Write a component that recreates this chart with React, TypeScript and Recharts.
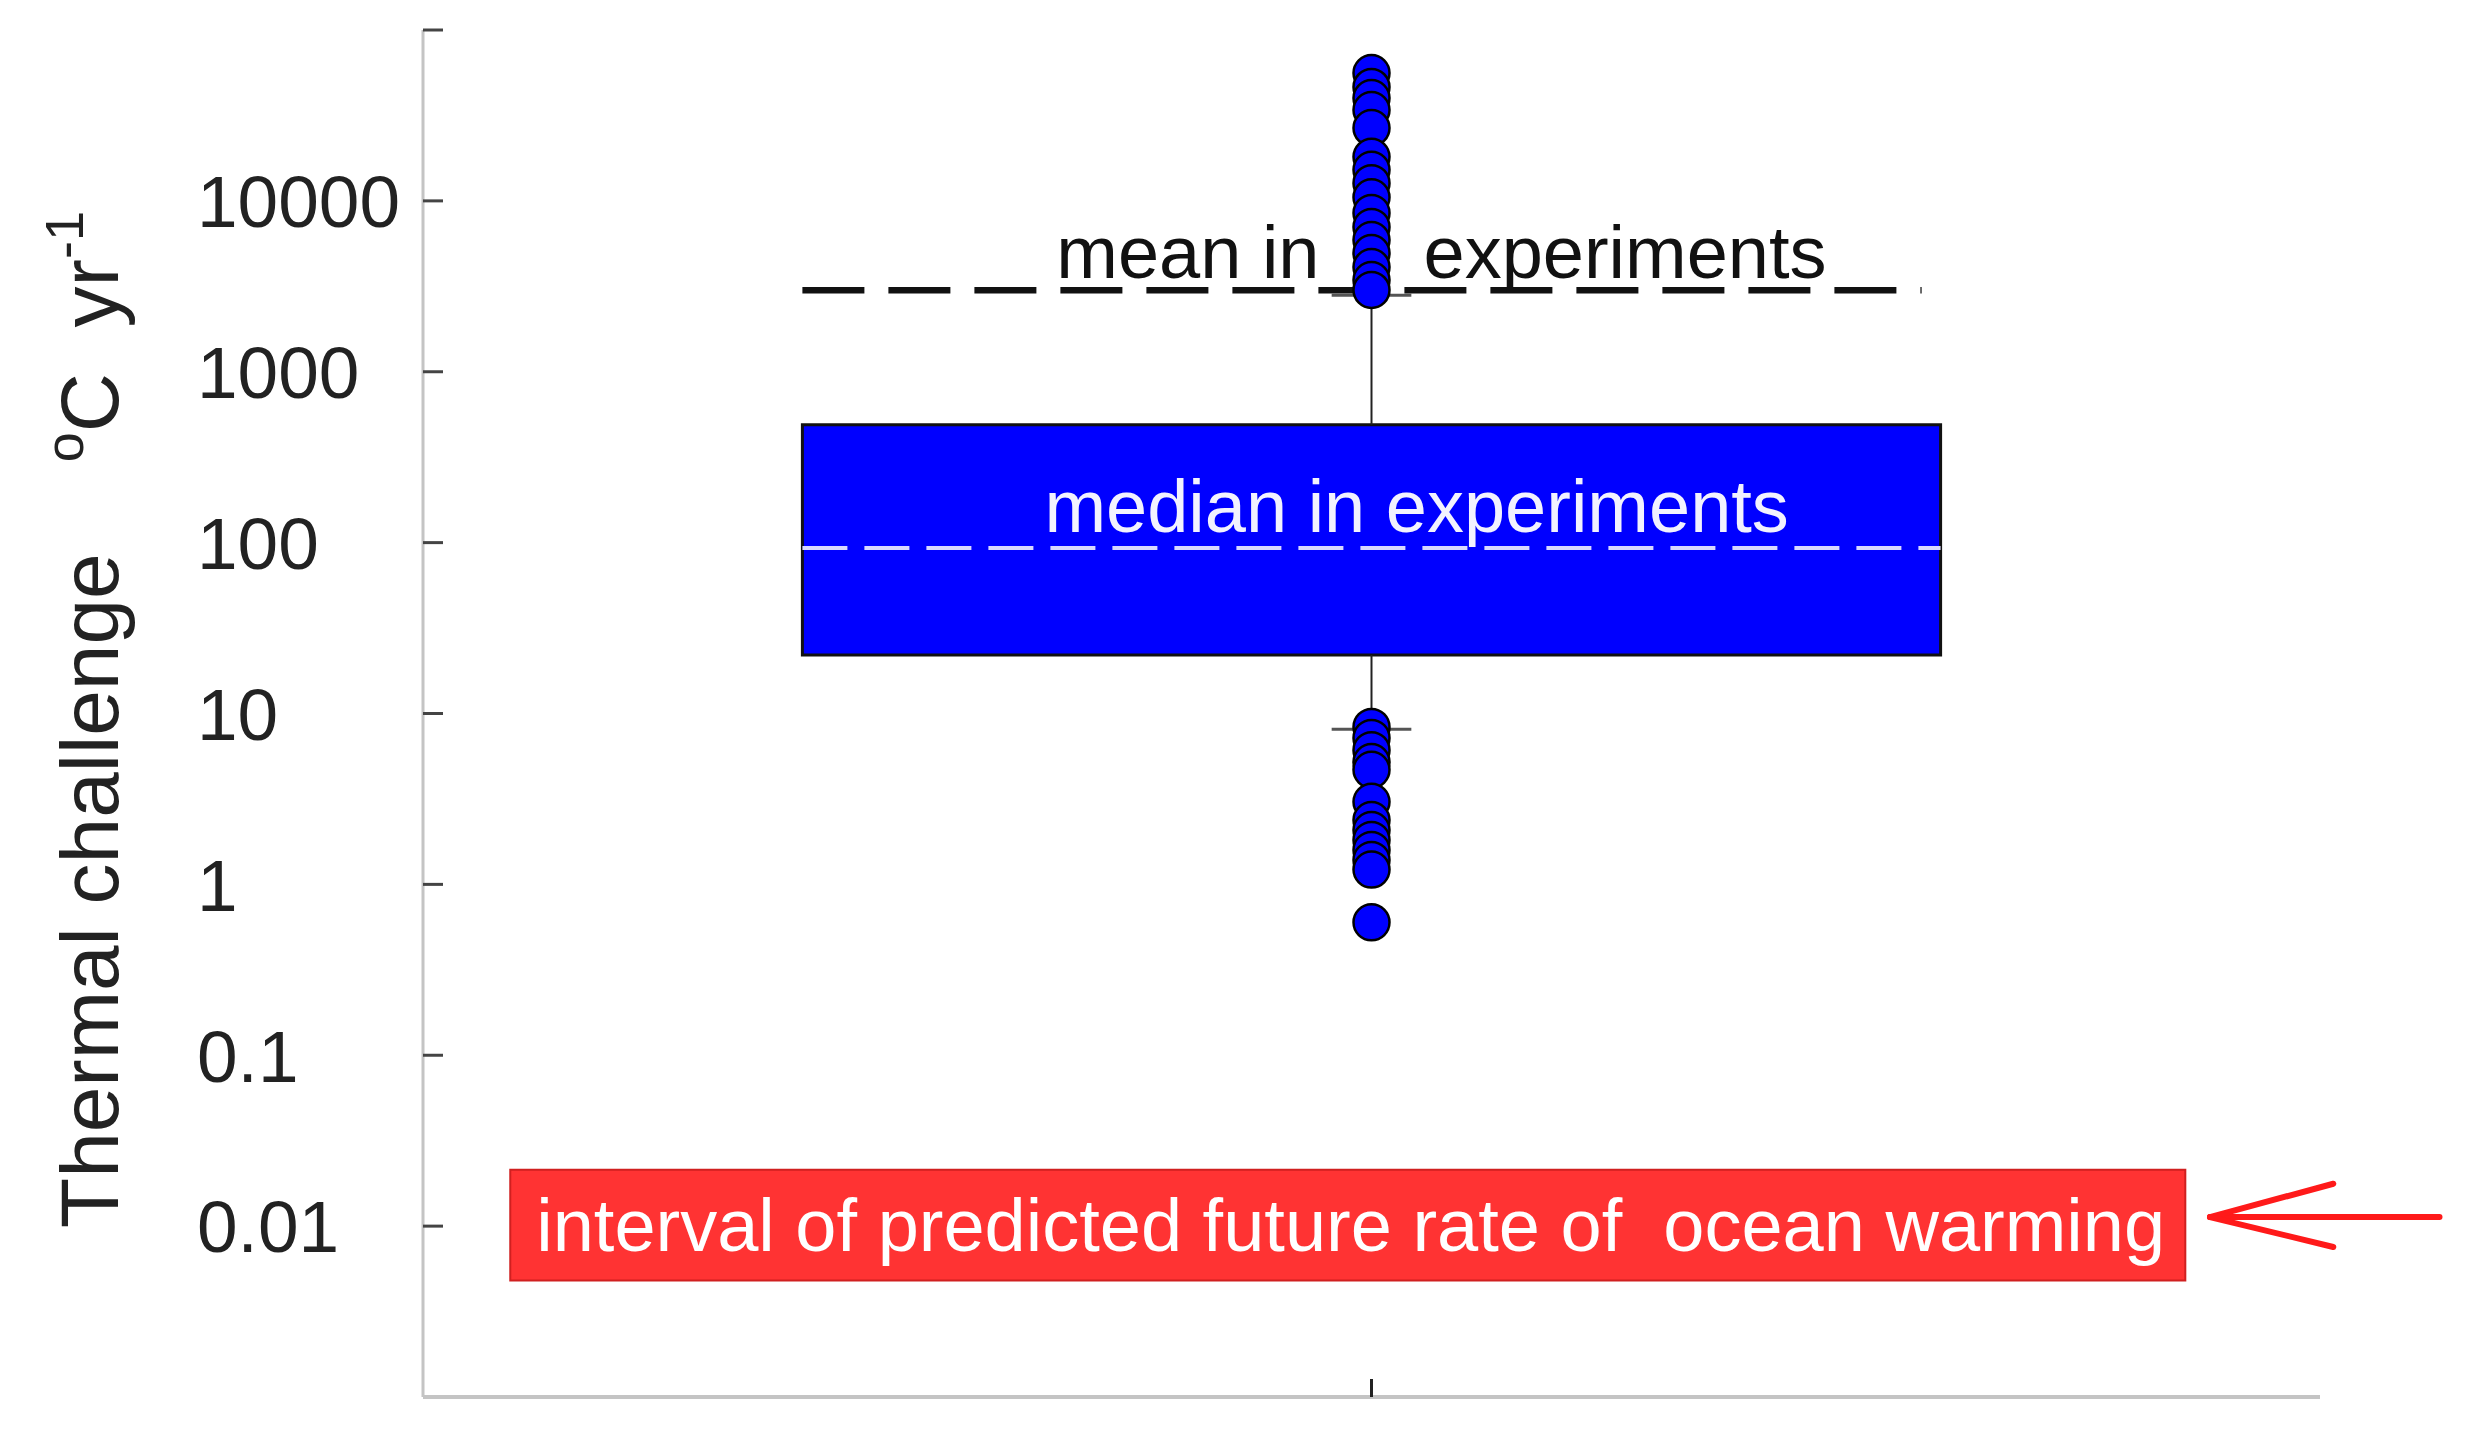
import React from 'react';
import { ComposedChart, XAxis, YAxis, Scatter, ReferenceArea, ReferenceLine } from 'recharts';

// box statistics, degC per year
const boxQ1 = 22;
const boxQ3 = 490;
const boxMedian = 93;
const boxMean = 3000;
const whiskerLow = 8.1;
const whiskerHigh = 2800;

// outliers above / below the whiskers
const upperOutliers = [56000, 46400, 40000, 34000, 26700, 18100, 15200, 12700, 10500, 8500, 7040, 5900, 4950, 4100, 3440, 3010];
const lowerOutliers = [8.35, 7.2, 6.1, 5.2, 4.68, 3.04, 2.38, 2.08, 1.82, 1.59, 1.39, 1.22, 0.6];

// predicted future rate of ocean warming (low, high)
const oceanInterval = [0.0048, 0.0214];
const arrowValues = [0.0113, 0.0177, 0.00755]; // tip, upper barb, lower barb

const yTicks = [0.01, 0.1, 1, 10, 100, 1000, 10000, 100000];
const yTickLabels = ['0.01', '0.1', '1', '10', '100', '1000', '10000', ''];

// horizontal layout on a 0..1 axis
const center = 0.5;
const boxX = [0.2, 0.8];
const meanX = [0.2, 0.79];
const capHalf = 0.021;
const intervalX = [0.046, 0.929];
const arrowX = [0.942, 1.007, 1.063]; // tip, barb end, tail

const FONT = '"Liberation Sans", Arial, sans-serif';

const outlierData = [...upperOutliers, ...lowerOutliers].map((v) => ({ x: center, y: v }));

const YTick = (props: any) => {
  const { x, y, payload } = props;
  const i = yTicks.indexOf(payload.value);
  return (
    <g>
      <line x1={x} y1={y} x2={x + 20} y2={y} stroke="#444" strokeWidth={3} />
      <text x={x - 226} y={y} dy="0.36em" textAnchor="start" fontSize={73} fill="#222" fontFamily={FONT}>
        {i >= 0 ? yTickLabels[i] : ''}
      </text>
    </g>
  );
};

const XTick = (props: any) => {
  const { x, y } = props;
  return <line x1={x} y1={y} x2={x} y2={y - 18} stroke="#222" strokeWidth={3} />;
};

const YLabel = (props: any) => {
  const vb = props.viewBox;
  const cx = 118;
  const cy = vb.y + vb.height / 2 + 6;
  return (
    <text
      transform={`rotate(-90 ${cx} ${cy})`}
      x={cx}
      y={cy}
      textAnchor="middle"
      fontSize={82}
      fill="#222"
      fontFamily={FONT}
      style={{ whiteSpace: 'pre' }}
    >
      {'Thermal challenge    '}
      <tspan fontSize={54} dy={-35}>o</tspan>
      <tspan dy={35}>{'C  yr'}</tspan>
      <tspan fontSize={54} dy={-35}>-1</tspan>
    </text>
  );
};

const MeanLabel = (props: any) => {
  const { x, y, width } = props.viewBox;
  const cx = x + (width * (center - meanX[0])) / (meanX[1] - meanX[0]);
  return (
    <g fontSize={74} fill="#111" fontFamily={FONT}>
      <text x={cx - 52} y={y - 12} textAnchor="end">mean in</text>
      <text x={cx + 52} y={y - 12} textAnchor="start">experiments</text>
    </g>
  );
};

const MedianLabel = (props: any) => {
  const { x, y } = props.viewBox;
  return (
    <text x={x + 242} y={y - 16} fontSize={74} fill="#f2f2ff" fontFamily={FONT}>
      median in experiments
    </text>
  );
};

const IntervalLabel = (props: any) => {
  const { x, y, height } = props.viewBox;
  return (
    <text x={x + 26} y={y + height / 2 + 26} fontSize={74} fill="#ffffff" fontFamily={FONT} style={{ whiteSpace: 'pre' }}>
      {'interval of predicted future rate of  ocean warming'}
    </text>
  );
};

const OutlierDot = (props: any) => (
  <circle cx={props.cx} cy={props.cy} r={18} fill="#0000ff" stroke="#000" strokeWidth={2.5} />
);

export default function App() {
  return (
    <div style={{ position: 'absolute', left: 0, top: 0, background: '#fff' }}>
      <ComposedChart width={2475} height={1446} margin={{ top: 30, right: 155, bottom: 29, left: 0 }}>
        <XAxis
          type="number"
          dataKey="x"
          domain={[0, 1]}
          ticks={[center]}
          allowDataOverflow
          height={20}
          tickSize={0}
          tickMargin={0}
          tickLine={false}
          tick={<XTick />}
          axisLine={{ stroke: '#c4c4c4', strokeWidth: 4 }}
        />
        <YAxis
          type="number"
          dataKey="y"
          scale="log"
          domain={[0.001, 100000]}
          allowDataOverflow
          ticks={yTicks}
          interval={0}
          width={423}
          tickSize={0}
          tickMargin={0}
          tickLine={false}
          tick={<YTick />}
          axisLine={{ stroke: '#c4c4c4', strokeWidth: 3 }}
          label={{ content: <YLabel /> }}
        />

        <ReferenceArea
          x1={intervalX[0]}
          x2={intervalX[1]}
          y1={oceanInterval[0]}
          y2={oceanInterval[1]}
          fill="#ff3333"
          fillOpacity={1}
          stroke="#d02020"
          strokeWidth={2}
          label={<IntervalLabel />}
        />

        <ReferenceLine segment={[{ x: center, y: boxQ3 }, { x: center, y: whiskerHigh }]} stroke="#222" strokeWidth={2} />
        <ReferenceLine segment={[{ x: center, y: whiskerLow }, { x: center, y: boxQ1 }]} stroke="#222" strokeWidth={2} />
        <ReferenceLine
          segment={[{ x: center - capHalf, y: whiskerHigh }, { x: center + capHalf, y: whiskerHigh }]}
          stroke="#555"
          strokeWidth={3}
        />
        <ReferenceLine
          segment={[{ x: center - capHalf, y: whiskerLow }, { x: center + capHalf, y: whiskerLow }]}
          stroke="#555"
          strokeWidth={3}
        />

        <ReferenceArea
          x1={boxX[0]}
          x2={boxX[1]}
          y1={boxQ1}
          y2={boxQ3}
          fill="#0000ff"
          fillOpacity={1}
          stroke="#111"
          strokeWidth={3}
        />
        <ReferenceLine
          segment={[{ x: boxX[0], y: boxMedian }, { x: boxX[1], y: boxMedian }]}
          stroke="#d8d8ff"
          strokeWidth={4}
          strokeDasharray="45 17"
          label={<MedianLabel />}
        />
        <ReferenceLine
          segment={[{ x: meanX[0], y: boxMean }, { x: meanX[1], y: boxMean }]}
          stroke="#111"
          strokeWidth={6.5}
          strokeDasharray="62 24"
          label={<MeanLabel />}
        />

        <ReferenceLine
          segment={[{ x: arrowX[2], y: arrowValues[0] }, { x: arrowX[0], y: arrowValues[0] }]}
          stroke="#ff1a1a"
          strokeWidth={6}
          strokeLinecap="round"
          ifOverflow="visible"
        />
        <ReferenceLine
          segment={[{ x: arrowX[0], y: arrowValues[0] }, { x: arrowX[1], y: arrowValues[1] }]}
          stroke="#ff1a1a"
          strokeWidth={6}
          strokeLinecap="round"
          ifOverflow="visible"
        />
        <ReferenceLine
          segment={[{ x: arrowX[0], y: arrowValues[0] }, { x: arrowX[1], y: arrowValues[2] }]}
          stroke="#ff1a1a"
          strokeWidth={6}
          strokeLinecap="round"
          ifOverflow="visible"
        />

        <Scatter data={outlierData} dataKey="y" shape={<OutlierDot />} isAnimationActive={false} />
      </ComposedChart>
    </div>
  );
}
